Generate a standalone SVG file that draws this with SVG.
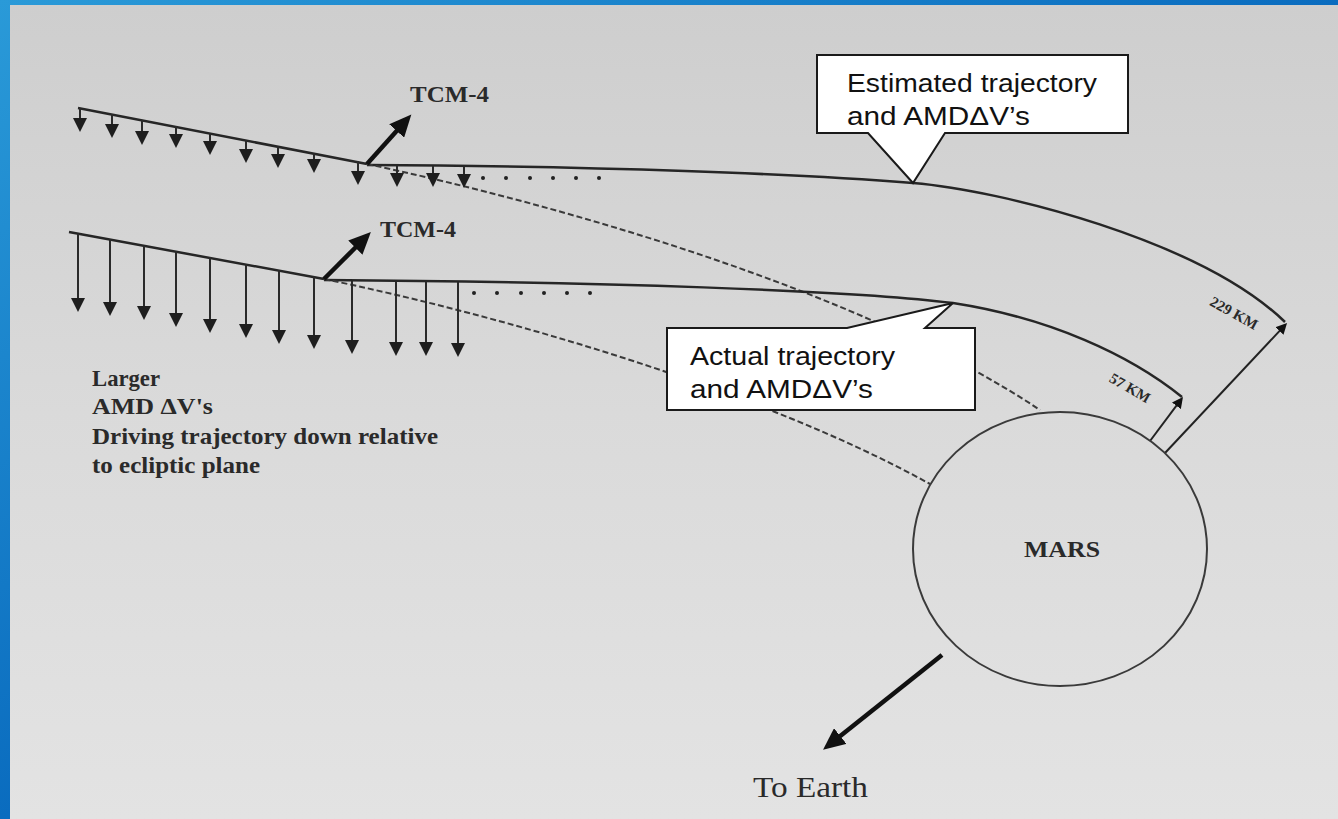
<svg xmlns="http://www.w3.org/2000/svg" width="1338" height="819" viewBox="0 0 1338 819">
<defs>
<linearGradient id="blue" x1="0" y1="0" x2="1" y2="1">
<stop offset="0" stop-color="#2a9ad8"/>
<stop offset="0.5" stop-color="#0a6cbf"/>
<stop offset="1" stop-color="#0b4f9c"/>
</linearGradient>
<linearGradient id="paper" x1="0" y1="0" x2="0" y2="1">
<stop offset="0" stop-color="#cecece"/>
<stop offset="0.5" stop-color="#dadada"/>
<stop offset="1" stop-color="#e3e3e3"/>
</linearGradient>
<marker id="hd" markerUnits="userSpaceOnUse" markerWidth="14" markerHeight="14" refX="10" refY="7" orient="auto">
<path d="M0,0 L14,7 L0,14 Z" fill="#1e1e1e"/>
</marker>
<marker id="big" markerUnits="userSpaceOnUse" markerWidth="24" markerHeight="20" refX="8" refY="10" orient="auto">
<path d="M0,0 L22,10 L0,20 Z" fill="#111"/>
</marker>
<marker id="sm" markerUnits="userSpaceOnUse" markerWidth="12" markerHeight="11" refX="7" refY="5.5" orient="auto">
<path d="M0,0 L11,5.5 L0,11 Z" fill="#111"/>
</marker>
<style>
.traj{fill:none;stroke:#262626;stroke-width:2.5}
.dash{fill:none;stroke:#3a3a3a;stroke-width:2;stroke-dasharray:6 3}
.dv{stroke:#2a2a2a;stroke-width:2;marker-end:url(#hd)}
.thick{stroke:#111;stroke-width:4.5;marker-end:url(#big)}
.km{stroke:#222;stroke-width:2;marker-end:url(#sm)}
.dot{fill:#222}
.serif{font-family:"Liberation Serif","Times New Roman",serif;fill:#2a2a2a}
.sans{font-family:"Liberation Sans",Arial,sans-serif;font-size:26px;fill:#111}
.box{fill:#ffffff;stroke:#1a1a1a;stroke-width:2}
</style>
</defs>

<rect x="0" y="0" width="1338" height="819" fill="url(#blue)"/>
<rect x="10" y="5" width="1328" height="814" fill="url(#paper)"/>

<g id="connectors">
  <path class="traj" d="M78,108 L367,164"/>
  <path class="traj" d="M367,165 C600,166 800,174 913,183 C1000,190 1200,240 1285,322"/>
  <path class="dash" d="M367,164 C560,205 860,290 1040,410"/>
  <path class="traj" d="M69,232 L324,279"/>
  <path class="traj" d="M324,280 C600,282 850,290 953,303 C1050,318 1130,355 1182,397"/>
  <path class="dash" d="M324,279 C500,315 760,390 930,484"/>

  <line class="dv" x1="80" y1="108" x2="80" y2="128"/>
  <line class="dv" x1="112" y1="114" x2="112" y2="134"/>
  <line class="dv" x1="142" y1="120" x2="142" y2="141"/>
  <line class="dv" x1="176" y1="126" x2="176" y2="144"/>
  <line class="dv" x1="210" y1="133" x2="210" y2="151"/>
  <line class="dv" x1="246" y1="140" x2="246" y2="159"/>
  <line class="dv" x1="278" y1="146" x2="278" y2="164"/>
  <line class="dv" x1="314" y1="153" x2="314" y2="169"/>
  <line class="dv" x1="358" y1="161" x2="358" y2="181"/>
  <line class="dv" x1="397" y1="166" x2="397" y2="183"/>
  <line class="dv" x1="433" y1="166" x2="433" y2="183"/>
  <line class="dv" x1="464" y1="167" x2="464" y2="184"/>
  <g class="dot">
    <circle cx="483" cy="178" r="2"/><circle cx="506" cy="178" r="2"/><circle cx="530" cy="178" r="2"/>
    <circle cx="553" cy="178" r="2"/><circle cx="576" cy="178" r="2"/><circle cx="599" cy="178" r="2"/>
  </g>

  <line class="dv" x1="78" y1="234" x2="78" y2="308"/>
  <line class="dv" x1="110" y1="239" x2="110" y2="312"/>
  <line class="dv" x1="144" y1="246" x2="144" y2="316"/>
  <line class="dv" x1="176" y1="251" x2="176" y2="323"/>
  <line class="dv" x1="210" y1="257" x2="210" y2="329"/>
  <line class="dv" x1="246" y1="264" x2="246" y2="334"/>
  <line class="dv" x1="279" y1="270" x2="279" y2="340"/>
  <line class="dv" x1="314" y1="276" x2="314" y2="345"/>
  <line class="dv" x1="352" y1="281" x2="352" y2="350"/>
  <line class="dv" x1="396" y1="282" x2="396" y2="352"/>
  <line class="dv" x1="426" y1="282" x2="426" y2="352"/>
  <line class="dv" x1="458" y1="282" x2="458" y2="353"/>
  <g class="dot">
    <circle cx="474" cy="293" r="2"/><circle cx="497" cy="293" r="2"/><circle cx="521" cy="293" r="2"/>
    <circle cx="544" cy="293" r="2"/><circle cx="567" cy="293" r="2"/><circle cx="590" cy="293" r="2"/>
  </g>

  <line class="thick" x1="367" y1="164" x2="402" y2="125"/>
  <line class="thick" x1="324" y1="279" x2="361" y2="242"/>

  <line class="km" x1="1150" y1="441" x2="1180.6" y2="400.2"/>
  <line class="km" x1="1165" y1="453" x2="1284.3" y2="325.9"/>

  <line class="thick" x1="942" y1="655" x2="834" y2="741"/>
</g>

<g id="mars">
  <ellipse cx="1060" cy="549" rx="147" ry="137" fill="none" stroke="#3a3a3a" stroke-width="2"/>
  <text class="serif" x="1024" y="557" font-size="24" font-weight="bold" textLength="76" lengthAdjust="spacingAndGlyphs">MARS</text>
</g>

<g id="tcm4-upper">
  <text class="serif" x="410" y="102" font-size="23" font-weight="bold" textLength="79" lengthAdjust="spacingAndGlyphs">TCM-4</text>
</g>
<g id="tcm4-lower">
  <text class="serif" x="380" y="237" font-size="23" font-weight="bold" textLength="76" lengthAdjust="spacingAndGlyphs">TCM-4</text>
</g>

<g id="label-left" class="serif" font-size="23" font-weight="bold">
  <text x="92" y="386" textLength="68" lengthAdjust="spacingAndGlyphs">Larger</text>
  <text x="92" y="414" textLength="121" lengthAdjust="spacingAndGlyphs">AMD ΔV's</text>
  <text x="92" y="444" textLength="346" lengthAdjust="spacingAndGlyphs">Driving trajectory down relative</text>
  <text x="92" y="473" textLength="168" lengthAdjust="spacingAndGlyphs">to ecliptic plane</text>
</g>

<g id="label-57km">
  <text class="serif" x="1130" y="393" font-size="15" font-weight="bold" text-anchor="middle" transform="rotate(30 1130 388)">57 KM</text>
</g>
<g id="label-229km">
  <text class="serif" x="1234" y="318" font-size="15" font-weight="bold" text-anchor="middle" transform="rotate(29 1234 313)">229 KM</text>
</g>

<g id="callout-estimated">
  <path class="box" d="M817,55 H1128 V133 H945 L913,183 L868,133 H817 Z"/>
  <text class="sans" x="847" y="92" textLength="250" lengthAdjust="spacingAndGlyphs">Estimated trajectory</text>
  <text class="sans" x="847" y="125" textLength="183" lengthAdjust="spacingAndGlyphs">and AMDΔV’s</text>
</g>

<g id="callout-actual">
  <path class="box" d="M667,328 H847 L953,303 L925,328 H975 V410 H667 Z"/>
  <text class="sans" x="690" y="365" textLength="205" lengthAdjust="spacingAndGlyphs">Actual trajectory</text>
  <text class="sans" x="690" y="398" textLength="183" lengthAdjust="spacingAndGlyphs">and AMDΔV’s</text>
</g>

<g id="to-earth">
  <text class="serif" x="753" y="797" font-size="30" textLength="115" lengthAdjust="spacingAndGlyphs" fill="#1a1a1a">To Earth</text>
</g>
</svg>
